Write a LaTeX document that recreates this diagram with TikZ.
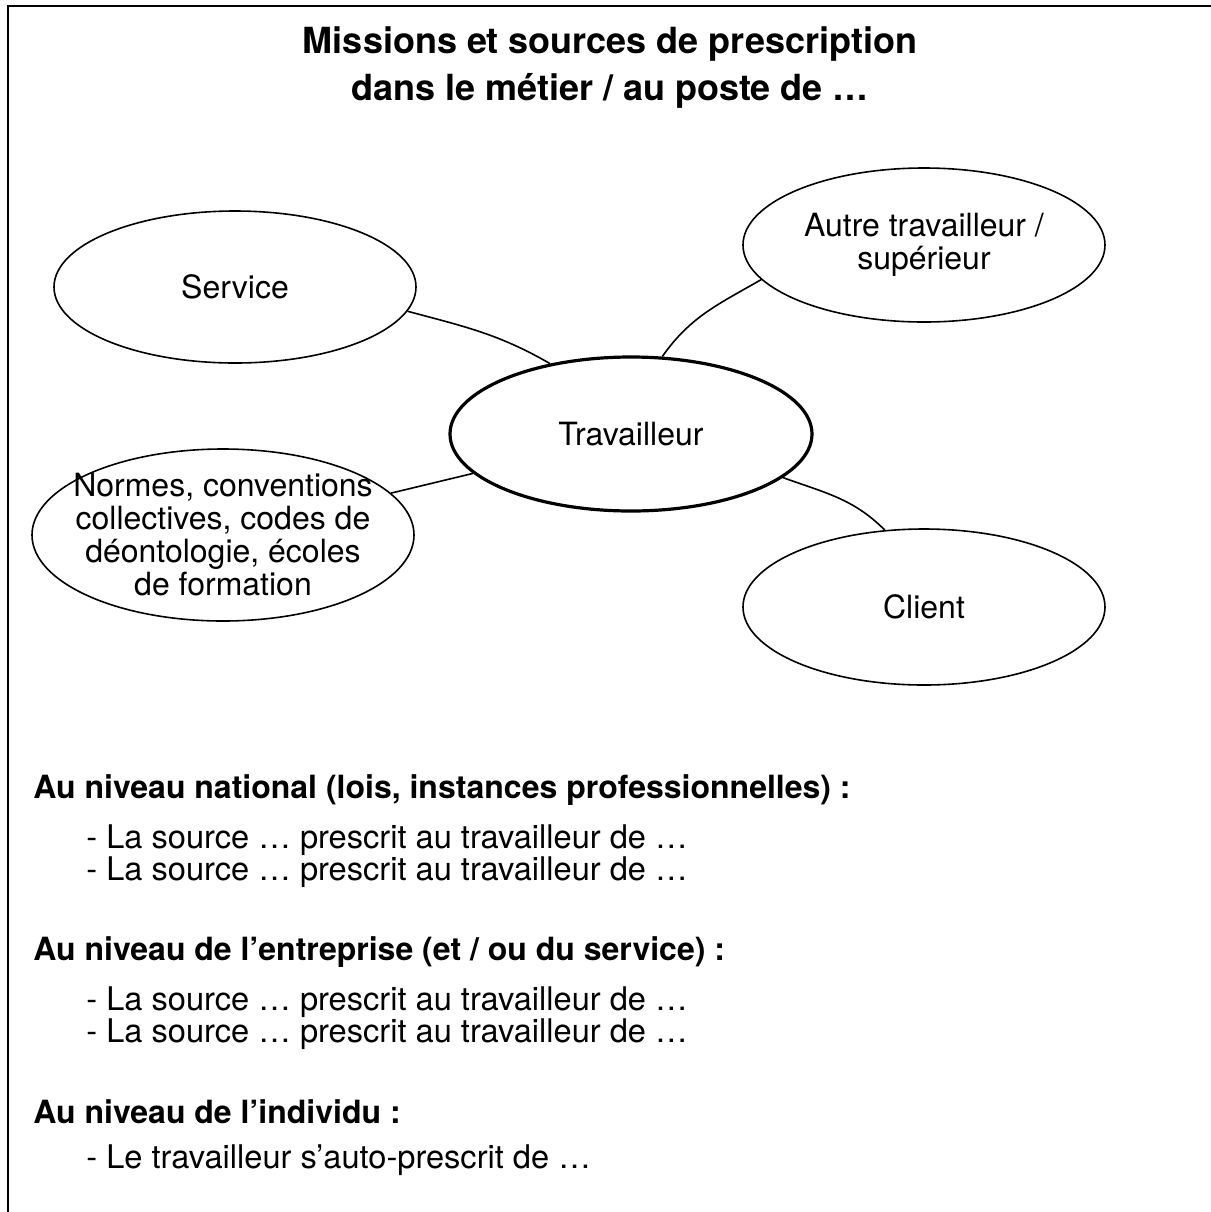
\documentclass[tikz,border=0pt]{standalone}
\usepackage{fontspec}
\setmainfont{TeX Gyre Heros}
\usetikzlibrary{shapes.geometric}

\tikzset{
  source/.style={ellipse,draw,line width=0.8pt,inner sep=-10pt,align=center,
    font=\fontsize{16}{16.5}\selectfont},
  worker/.style={source,line width=1.6pt},
  link/.style={line width=0.8pt},
  titleline/.style={anchor=base,inner sep=0pt,font=\fontsize{18}{18}\selectfont\bfseries},
  heading/.style={anchor=west,inner sep=0pt,font=\fontsize{16}{16}\selectfont\bfseries},
  item/.style={anchor=west,inner sep=0pt,font=\fontsize{16.3}{16.3}\selectfont}
}

\begin{document}
\begin{tikzpicture}[x=0.5pt,y=-0.5pt]
\useasboundingbox (0,0) rectangle (1211,1212);
\draw[line width=1.4pt] (8,1230) -- (8,6) -- (1230,6);

\node (title1)[titleline] at (610,53) {Missions et sources de prescription};
\node (title2)[titleline] at (610,100) {dans le métier / au poste de \dots};

\node (serv)[source,minimum width=181pt,minimum height=76pt] at (235,287) {Service};
\node (autre)[source,minimum width=181pt,minimum height=77pt] at (924,245) {Autre travailleur /\\supérieur};
\node (trav)[worker,minimum width=181pt,minimum height=77pt] at (631,434) {Travailleur};
\node (norm)[source,minimum width=191pt,minimum height=86pt] at (223,535)
  {Normes, conventions\\collectives, codes de\\déontologie, écoles\\de formation};
\node (client)[source,minimum width=181pt,minimum height=78pt] at (924,607) {Client};

\draw[link] (serv.-8) to[out=-15,in=150] (trav.139);
\draw[link] (trav.68) to[out=55,in=-150] (autre.-168);
\draw[link] (norm.14) -- (trav.-166);
\draw[link] (trav.-16) to[out=-20,in=135] (client.117);

\node (h1)[heading] at (33,790) {Au niveau national (lois, instances professionnelles) :};
\node (l1a)[item] at (86,840) {- La source \dots\ prescrit au travailleur de \dots};
\node (l1b)[item] at (86,872) {- La source \dots\ prescrit au travailleur de \dots};

\node (h2)[heading] at (33,952) {Au niveau de l’entreprise (et / ou du service) :};
\node (l2a)[item] at (86,1002) {- La source \dots\ prescrit au travailleur de \dots};
\node (l2b)[item] at (86,1034) {- La source \dots\ prescrit au travailleur de \dots};

\node (h3)[heading] at (33,1112) {Au niveau de l’individu :};
\node (l3)[item] at (86,1160) {- Le travailleur s’auto-prescrit de \dots};
\end{tikzpicture}
\end{document}
